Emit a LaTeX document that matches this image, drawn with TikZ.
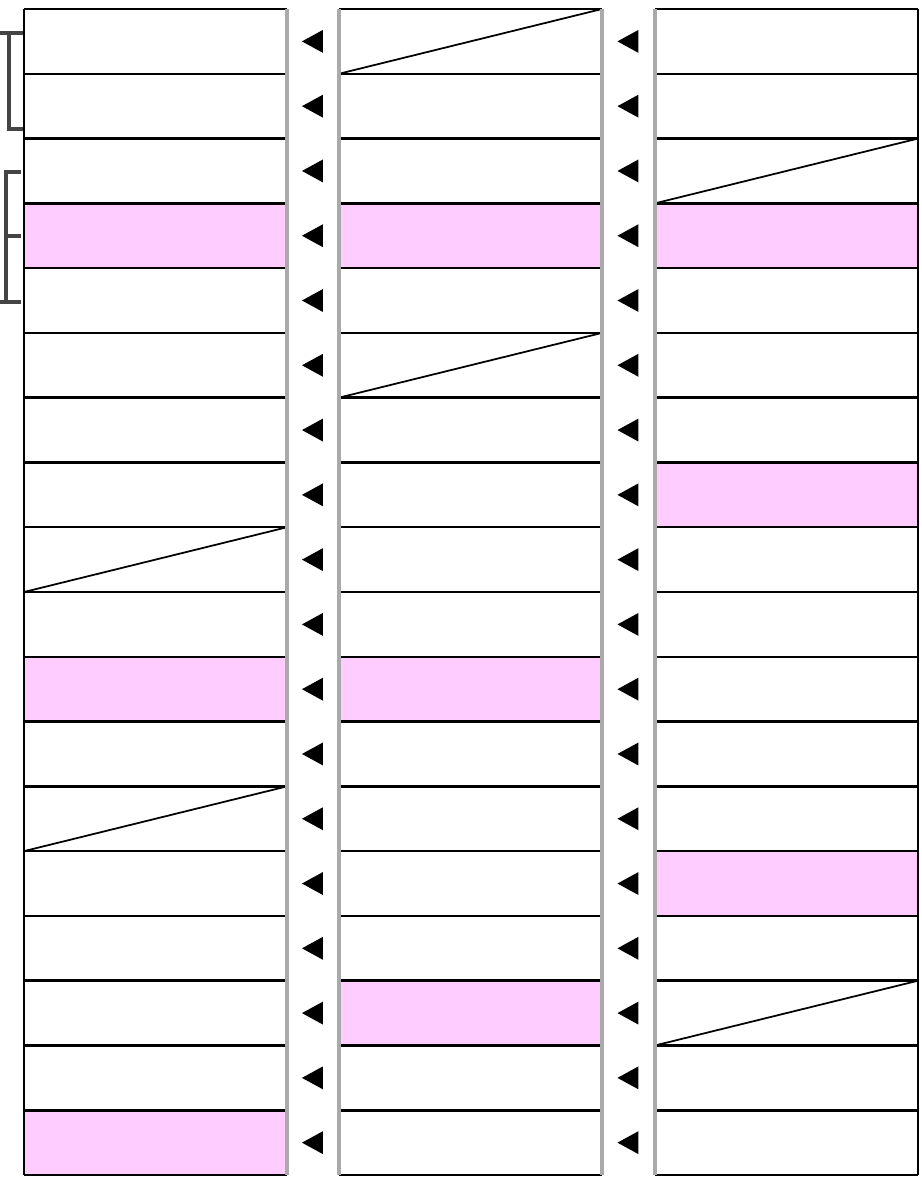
\documentclass[tikz,border=0pt]{standalone}
\usepackage{tikz}
\usetikzlibrary{calc}

\definecolor{cellpink}{HTML}{FFCCFF}
\definecolor{railgray}{HTML}{AAAAAA}
\definecolor{bracegray}{HTML}{444444}

\begin{document}
\begin{tikzpicture}[
    x=0.02cm, y=-0.02cm,
    cell/.style={minimum width=5.26cm, minimum height=1.2956cm, inner sep=0pt, outer sep=0pt, anchor=north west},
    rule/.style={draw=black, line width=1.4pt},
    rail/.style={draw=railgray, line width=2.5pt},
    slash/.style={draw=black, line width=1pt},
    brace/.style={draw=bracegray, line width=2pt}
]
\useasboundingbox (0,0) rectangle (921,1177);

% cells
\foreach \c/\x in {1/24,2/339,3/655}
  \foreach \r in {0,...,17}
    \node[cell] (c\c-\r) at (\x,{9+64.78*\r}) {};

% highlighted cells
\foreach \c/\r in {1/3,1/10,1/17,2/3,2/10,2/15,3/3,3/7,3/13}
  \fill[cellpink] (c\c-\r.north west) rectangle (c\c-\r.south east);

% row rules
\foreach \c in {1,2,3} {
  \foreach \r in {0,...,17}
    \draw[rule] (c\c-\r.north west) -- (c\c-\r.north east);
  \draw[rule] (c\c-17.south west) -- (c\c-17.south east);
}

% diagonals
\foreach \c/\r in {2/0,3/2,2/5,1/8,1/12,3/15}
  \draw[slash] (c\c-\r.south west) -- (c\c-\r.north east);

% column edges
\draw[rule] (c1-0.north west) -- (c1-17.south west);
\draw[rail] (c1-0.north east) -- (c1-17.south east);
\draw[rail] (c2-0.north west) -- (c2-17.south west);
\draw[rail] (c2-0.north east) -- (c2-17.south east);
\draw[rail] (c3-0.north west) -- (c3-17.south west);
\draw[rule] (c3-0.north east) -- (c3-17.south east);

% markers between columns
\foreach \r in {0,...,17} {
  \coordinate (m1-\r) at ($(c1-\r.east)!0.5!(c2-\r.west)$);
  \coordinate (m2-\r) at ($(c2-\r.east)!0.5!(c3-\r.west)$);
  \fill ($(m1-\r)+(-11,0)$) -- ++(21,-11.5) -- ++(0,23) -- cycle;
  \fill ($(m2-\r)+(-11,0)$) -- ++(21,-11.5) -- ++(0,23) -- cycle;
}

% brackets
\draw[brace] (0,33) -- (23,33);
\draw[brace] (9,33) -- (9,129) -- (23,129);
\draw[brace] (21,172) -- (6,172) -- (6,302);
\draw[brace] (0,302) -- (21,302);
\draw[brace] (6,236) -- (21,236);
\end{tikzpicture}
\end{document}
